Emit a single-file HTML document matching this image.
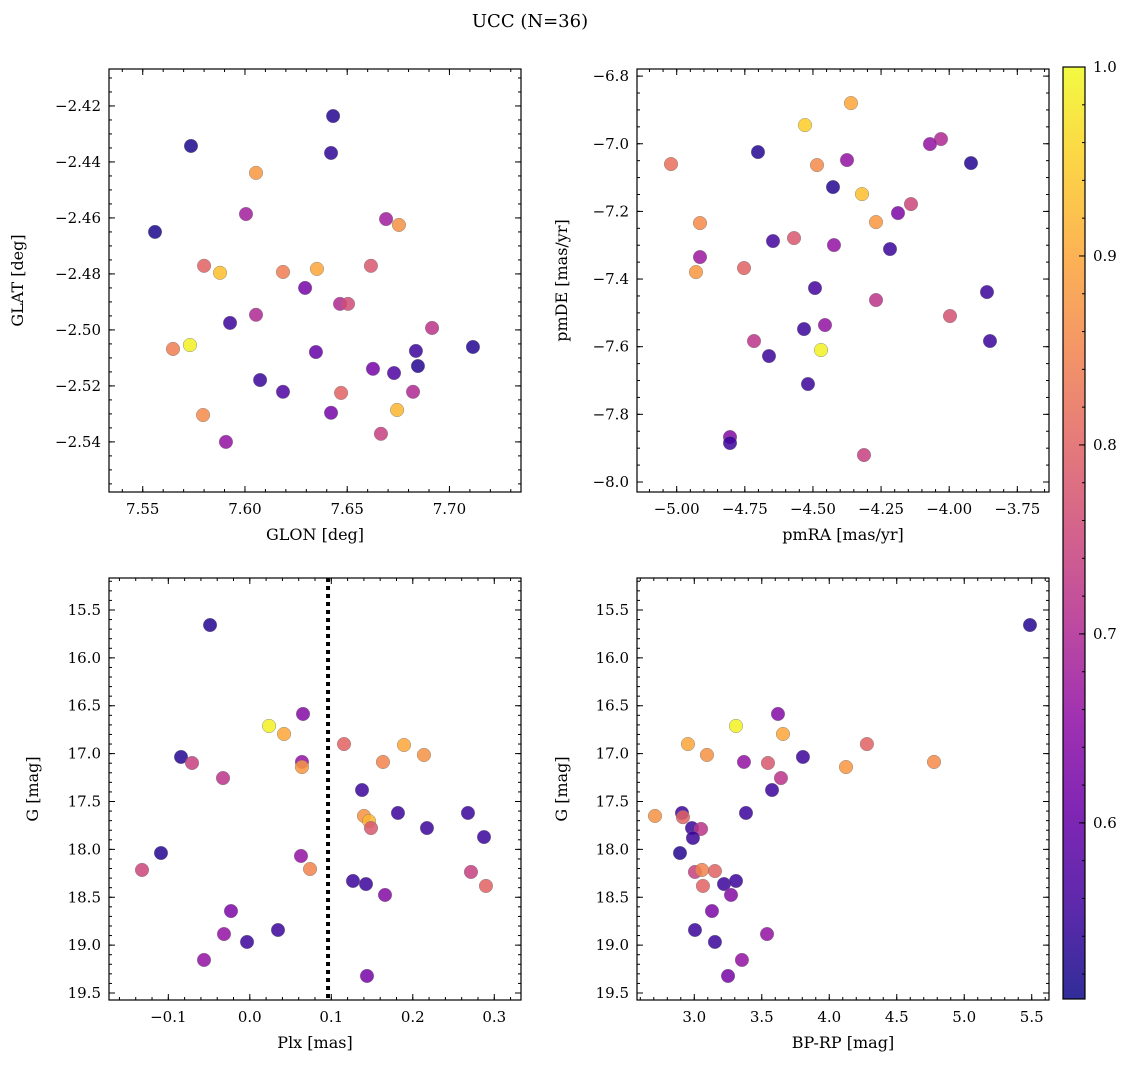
<!DOCTYPE html>
<html><head><meta charset="utf-8"><style>
body{margin:0;background:#fff}
svg{display:block;font-family:"DejaVu Serif","Liberation Serif",serif}
</style></head><body>
<svg id="fig" width="1136" height="1067" xmlns="http://www.w3.org/2000/svg">
<text x="530" y="27" font-size="18" text-anchor="middle">UCC (N=36)</text>
<defs>
<linearGradient id="cbg" x1="0" y1="1" x2="0" y2="0">
<stop offset="0" stop-color="#0d0887"/><stop offset="0.1" stop-color="#41049d"/><stop offset="0.2" stop-color="#6a00a8"/><stop offset="0.3" stop-color="#8f0da4"/><stop offset="0.4" stop-color="#b12a90"/><stop offset="0.5" stop-color="#cc4778"/><stop offset="0.6" stop-color="#e16462"/><stop offset="0.7" stop-color="#f2844b"/><stop offset="0.8" stop-color="#fca636"/><stop offset="0.9" stop-color="#fcce25"/><stop offset="1" stop-color="#f0f921"/>
</linearGradient>
</defs>
<g id="root"></g>
</svg>
<script>
// Panel 1: GLON vs GLAT
const glonVals=[7.5736,7.6431,7.6421,7.6054,7.6005,7.5560,7.6690,7.6753,7.5800,7.5878,7.6186,7.6352,7.6616,7.6294,7.6465,7.6504,7.6054,7.5927,7.6915,7.5648,7.5731,7.6347,7.7115,7.6836,7.6846,7.6626,7.6729,7.6074,7.6186,7.6470,7.6822,7.6744,7.6421,7.5795,7.6665,7.5907];
const glatVals=[-2.4343,-2.4236,-2.4368,-2.4439,-2.4586,-2.465,-2.4604,-2.4625,-2.4771,-2.4796,-2.4793,-2.4782,-2.4771,-2.485,-2.4907,-2.4907,-2.4946,-2.4975,-2.4993,-2.5068,-2.5054,-2.5079,-2.5061,-2.5075,-2.5129,-2.5139,-2.5154,-2.5179,-2.5221,-2.5225,-2.5221,-2.5286,-2.5296,-2.5304,-2.5371,-2.54];
const probTL=[0.52,0.53,0.54,0.88,0.68,0.52,0.68,0.87,0.8,0.93,0.84,0.9,0.78,0.62,0.7,0.76,0.7,0.55,0.72,0.84,0.99,0.6,0.53,0.55,0.53,0.62,0.57,0.55,0.57,0.8,0.7,0.92,0.62,0.86,0.74,0.66];
// Panel 2: pmRA vs pmDE
const pmraVals=[-4.3604,-4.5292,-4.0301,-4.0705,-5.0209,-4.7017,-4.4851,-4.375,-3.92,-4.4264,-4.32,-4.1402,-4.1879,-4.9145,-4.2686,-4.5695,-4.6466,-4.4228,-4.2172,-4.9145,-4.753,-4.9292,-3.8613,-4.2686,-4.4925,-3.997,-4.4558,-4.5328,-3.8503,-4.7163,-4.6613,-4.4704,-4.5182,-4.8044,-4.8044,-4.3127];
const pmdeVals=[-6.8798,-6.9448,-6.9862,-7.001,-7.0601,-7.0246,-7.0631,-7.0483,-7.0572,-7.1281,-7.1488,-7.1784,-7.205,-7.2345,-7.2316,-7.2789,-7.2877,-7.2996,-7.3114,-7.335,-7.3675,-7.3794,-7.4385,-7.4621,-7.4267,-7.5094,-7.536,-7.5479,-7.5833,-7.5833,-7.6277,-7.6099,-7.7104,-7.8671,-7.8848,-7.9203];
const probTR=[0.9,0.95,0.7,0.66,0.82,0.53,0.86,0.66,0.53,0.53,0.93,0.75,0.63,0.86,0.88,0.78,0.56,0.66,0.55,0.67,0.8,0.88,0.55,0.72,0.56,0.77,0.66,0.55,0.55,0.72,0.55,0.99,0.55,0.64,0.55,0.74];
// Panel 3: Plx vs G
const plxVals=[-0.0488,0.0236,0.042,0.0653,0.1156,0.1892,0.2137,0.1634,-0.0844,-0.0709,0.064,0.064,-0.0329,0.1377,0.2677,0.1818,0.1401,0.1463,0.1487,0.2174,0.2874,-0.109,0.0628,0.0739,-0.1323,0.1266,0.1426,0.2714,0.2898,0.1659,-0.0231,-0.0317,0.0346,-0.0034,-0.0562,0.1438];
const gVals=[15.657,16.711,16.795,16.586,16.9,16.91,17.014,17.087,17.035,17.098,17.087,17.14,17.255,17.38,17.62,17.62,17.651,17.704,17.777,17.777,17.871,18.038,18.069,18.205,18.215,18.33,18.362,18.236,18.382,18.476,18.644,18.884,18.842,18.967,19.155,19.322];
const probBL=[0.53,0.99,0.9,0.64,0.8,0.9,0.87,0.85,0.53,0.74,0.66,0.88,0.72,0.55,0.55,0.55,0.87,0.92,0.78,0.55,0.55,0.53,0.66,0.85,0.75,0.55,0.55,0.74,0.8,0.64,0.63,0.66,0.55,0.55,0.66,0.62];
const plxMedian=0.096;
// Panel 4: BP-RP vs G
const bprpVals=[5.487,3.62,3.309,3.657,2.953,3.094,4.279,3.805,3.368,3.546,4.124,4.776,3.642,3.576,3.383,2.709,2.909,2.916,2.983,3.05,2.99,2.894,3.005,3.057,3.153,3.064,3.22,3.309,3.272,3.131,3.005,3.153,3.539,3.353,3.25];
const gVals2=[15.657,16.586,16.711,16.795,16.9,17.014,16.9,17.035,17.087,17.098,17.14,17.087,17.255,17.38,17.62,17.651,17.62,17.664,17.777,17.787,17.881,18.038,18.236,18.215,18.226,18.382,18.362,18.33,18.476,18.644,18.842,18.967,18.884,19.155,19.322];
const probBR=[0.53,0.64,0.99,0.9,0.9,0.87,0.8,0.55,0.66,0.78,0.88,0.86,0.72,0.55,0.55,0.87,0.55,0.8,0.55,0.72,0.55,0.53,0.74,0.85,0.8,0.8,0.55,0.55,0.64,0.63,0.55,0.55,0.66,0.66,0.62];
const cbTicks=[0.6,0.7,0.8,0.9,1.0];

const NS='http://www.w3.org/2000/svg';
const root=document.getElementById('root');
function mk(tag,attrs,parent){const e=document.createElementNS(NS,tag);for(const k in attrs)e.setAttribute(k,attrs[k]);(parent||root).appendChild(e);return e;}
const stops=[[13,8,135],[65,4,157],[106,0,168],[143,13,164],[177,42,144],[204,71,120],[225,100,98],[242,132,75],[252,166,54],[252,206,37],[240,249,33]];
const CMIN=0.5068,CMAX=1.0;
function plasma(v){let t=(v-CMIN)/(CMAX-CMIN);t=Math.max(0,Math.min(1,t));const p=t*10,i=Math.min(9,Math.floor(p)),f=p-i;const a=stops[i],b=stops[i+1];return 'rgb('+a.map((c,j)=>Math.round(c+(b[j]-c)*f)).join(',')+')';}
function fmt(v,d){const s=Math.abs(v).toFixed(d);return (v<-1e-9?'\u2212':'')+s;}

function panel(cfg){
  const {x0,y0,x1,y1,xd,yd,xt,yt,xm,ym,xdec,ydec,xlab,ylab,ylx,xs,ys,cs,name,yinv}=cfg;
  const g=mk('g',{});
  
  
  const sx=v=>x0+(v-xd[0])/(xd[1]-xd[0])*(x1-x0);
  const sy=v=>yinv? y0+(v-yd[0])/(yd[1]-yd[0])*(y1-y0) : y1-(v-yd[0])/(yd[1]-yd[0])*(y1-y0);
  const tg=mk('g',{stroke:'#000','stroke-width':1},g);
  for(let k=Math.ceil(xd[0]/xm-1e-6); k*xm<=xd[1]+1e-9; k++){const px=sx(k*xm);mk('line',{x1:px,x2:px,y1:y1,y2:y1-3},tg);mk('line',{x1:px,x2:px,y1:y0,y2:y0+3},tg);}
  for(let k=Math.ceil(yd[0]/ym-1e-6); k*ym<=yd[1]+1e-9; k++){const py=sy(k*ym);mk('line',{x1:x0,x2:x0+3,y1:py,y2:py},tg);mk('line',{x1:x1,x2:x1-3,y1:py,y2:py},tg);}
  xt.forEach(v=>{const px=sx(v);mk('line',{x1:px,x2:px,y1:y1,y2:y1-6},tg);mk('line',{x1:px,x2:px,y1:y0,y2:y0+6},tg);
    const t=mk('text',{x:px,y:y1+22,'font-size':15,'text-anchor':'middle'},g);t.textContent=fmt(v,xdec);
    
    });
  yt.forEach(v=>{const py=sy(v);mk('line',{x1:x0,x2:x0+6,y1:py,y2:py},tg);mk('line',{x1:x1,x2:x1-6,y1:py,y2:py},tg);
    const t=mk('text',{x:x0-8,y:py+5,'font-size':15,'text-anchor':'end'},g);t.textContent=fmt(v,ydec);
    
    });
  if(cfg.vline!==undefined){const px=sx(cfg.vline);const l=mk('line',{x1:px,x2:px,y1:y0,y2:y1,stroke:'#000','stroke-width':4,'stroke-dasharray':'4,4'},g);
    
    }
  xs.forEach((v,i)=>{const c=mk('circle',{cx:sx(v),cy:sy(ys[i]),r:6.8,fill:plasma(cs[i]),'fill-opacity':0.85,stroke:'#777','stroke-width':0.4},g);
    
    });
  mk('rect',{x:x0,y:y0,width:x1-x0,height:y1-y0,fill:'none',stroke:'#000','stroke-width':1.2},g);
  const xl=mk('text',{x:(x0+x1)/2,y:y1+48,'font-size':16,'text-anchor':'middle'},g);xl.textContent=xlab;
  
  
  const cy=(y0+y1)/2;
  const yl=mk('text',{x:ylx,y:cy,'font-size':16,'text-anchor':'middle',transform:'rotate(-90 '+ylx+' '+cy+')'},g);yl.textContent=ylab;
  
  
}
panel({name:'glon-glat-panel',x0:109,y0:69,x1:521,y1:492,xd:[7.5335,7.735],yd:[-2.5579,-2.4068],xt:[7.55,7.60,7.65,7.70],yt:[-2.42,-2.44,-2.46,-2.48,-2.50,-2.52,-2.54],xm:0.01,ym:0.005,xdec:2,ydec:2,xlab:'GLON [deg]',ylab:'GLAT [deg]',ylx:23,xs:glonVals,ys:glatVals,cs:probTL});
panel({name:'pm-panel',x0:637,y0:69,x1:1049,y1:492,xd:[-5.1457,-3.6337],yd:[-8.0296,-6.779],xt:[-5.0,-4.75,-4.5,-4.25,-4.0,-3.75],yt:[-6.8,-7.0,-7.2,-7.4,-7.6,-7.8,-8.0],xm:0.05,ym:0.05,xdec:2,ydec:1,xlab:'pmRA [mas/yr]',ylab:'pmDE [mas/yr]',ylx:567,xs:pmraVals,ys:pmdeVals,cs:probTR});
panel({name:'plx-g-panel',x0:109,y0:578,x1:521,y1:1000,xd:[-0.1728,0.3328],yd:[15.166,19.573],yinv:true,xt:[-0.1,0.0,0.1,0.2,0.3],yt:[15.5,16,16.5,17,17.5,18,18.5,19,19.5],xm:0.02,ym:0.1,xdec:1,ydec:1,xlab:'Plx [mas]',ylab:'G [mag]',ylx:38,xs:plxVals,ys:gVals,cs:probBL,vline:plxMedian});
panel({name:'cmd-panel',x0:637,y0:578,x1:1049,y1:1000,xd:[2.5756,5.628],yd:[15.166,19.573],yinv:true,xt:[3.0,3.5,4.0,4.5,5.0,5.5],yt:[15.5,16,16.5,17,17.5,18,18.5,19,19.5],xm:0.1,ym:0.1,xdec:1,ydec:1,xlab:'BP-RP [mag]',ylab:'G [mag]',ylx:567,xs:bprpVals,ys:gVals2,cs:probBR});

const cb=mk('g',{});


const CB={x0:1063,x1:1085,y0:67,y1:999};
const cby=v=>CB.y1-(v-CMIN)/(CMAX-CMIN)*(CB.y1-CB.y0);
mk('rect',{x:CB.x0,y:CB.y0,width:CB.x1-CB.x0,height:CB.y1-CB.y0,fill:'url(#cbg)','fill-opacity':0.85},cb);
for(let k=26;k<=50;k++){const py=cby(k*0.02);mk('line',{x1:CB.x1,x2:CB.x1-3,y1:py,y2:py,stroke:'#000','stroke-width':1},cb);}
cbTicks.forEach(v=>{const py=cby(v);mk('line',{x1:CB.x1,x2:CB.x1-6,y1:py,y2:py,stroke:'#000','stroke-width':1},cb);
  const t=mk('text',{x:CB.x1+8,y:py+5,'font-size':15},cb);t.textContent=v.toFixed(1);
  
  });
mk('rect',{x:CB.x0,y:CB.y0,width:CB.x1-CB.x0,height:CB.y1-CB.y0,fill:'none',stroke:'#000','stroke-width':1.2},cb);
</script>
</body></html>
